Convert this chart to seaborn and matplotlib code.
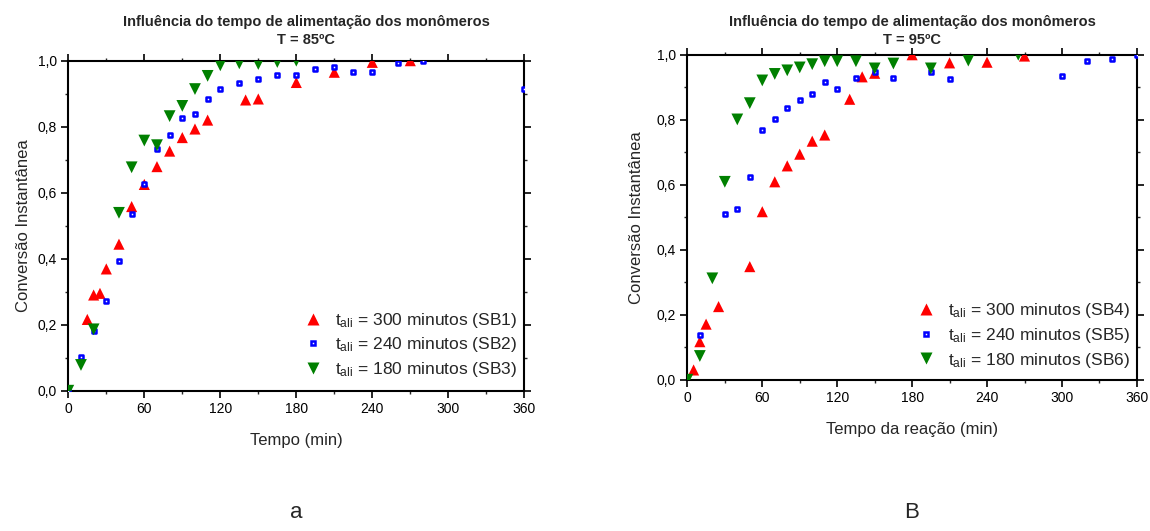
import matplotlib
matplotlib.use("Agg")
import matplotlib.pyplot as plt
import seaborn as sns
from matplotlib.ticker import MultipleLocator, FixedLocator, FixedFormatter
from matplotlib.lines import Line2D

sns.set_theme(style="ticks")
plt.rcParams["font.family"] = ["Liberation Sans", "DejaVu Sans"]
plt.rcParams["mathtext.fontset"] = "custom"
plt.rcParams["mathtext.rm"] = "Liberation Sans"
plt.rcParams["mathtext.it"] = "Liberation Sans:italic"

# ---- data: T = 85 ºC ----
sb1_t = [15, 20, 25, 30, 40, 50, 60, 70, 80, 90, 100, 110, 140, 150, 180, 210, 240, 270]
sb1_x = [0.216, 0.29, 0.295, 0.369, 0.444, 0.558, 0.625, 0.679, 0.726, 0.767, 0.793,
         0.82, 0.881, 0.884, 0.934, 0.965, 0.995, 1.0]
sb2_t = [0, 10, 20, 30, 40, 50, 60, 70, 80, 90, 100, 110, 120, 135, 150, 165, 180,
         195, 210, 225, 240, 260, 280, 360]
sb2_x = [0.0, 0.103, 0.181, 0.273, 0.394, 0.534, 0.625, 0.733, 0.776, 0.825, 0.837,
         0.885, 0.915, 0.933, 0.945, 0.956, 0.956, 0.976, 0.982, 0.965, 0.965, 0.994,
         1.0, 0.915]
sb3_t = [0, 10, 20, 40, 50, 60, 70, 80, 90, 100, 110, 120, 135, 150, 165, 180]
sb3_x = [0.0, 0.078, 0.186, 0.539, 0.677, 0.758, 0.744, 0.832, 0.863, 0.914, 0.954,
         0.986, 0.992, 0.99, 0.996, 1.0]

# ---- data: T = 95 ºC ----
sb4_t = [5, 10, 15, 25, 50, 60, 70, 80, 90, 100, 110, 130, 140, 150, 180, 210, 240, 270]
sb4_x = [0.03, 0.117, 0.171, 0.225, 0.348, 0.517, 0.609, 0.658, 0.694, 0.734, 0.753,
         0.863, 0.932, 0.943, 1.0, 0.975, 0.977, 0.996]
sb5_t = [10, 30, 40, 50, 60, 70, 80, 90, 100, 110, 120, 135, 150, 165, 195, 210,
         300, 320, 340, 360]
sb5_x = [0.139, 0.509, 0.526, 0.625, 0.767, 0.803, 0.835, 0.86, 0.878, 0.915, 0.895,
         0.927, 0.946, 0.927, 0.946, 0.926, 0.935, 0.98, 0.986, 1.0]
sb6_t = [0, 10, 20, 30, 40, 50, 60, 70, 80, 90, 100, 110, 120, 135, 150, 165, 195, 225, 265]
sb6_x = [0.0, 0.073, 0.312, 0.609, 0.801, 0.851, 0.921, 0.941, 0.952, 0.961, 0.971,
         0.98, 0.98, 0.98, 0.958, 0.973, 0.958, 0.982, 1.0]

x_ticks = [0, 60, 120, 180, 240, 300, 360]
y_ticks = [0.0, 0.2, 0.4, 0.6, 0.8, 1.0]
y_tick_labels = ["0,0", "0,2", "0,4", "0,6", "0,8", "1,0"]

title_line = "Influência do tempo de alimentação dos monômeros"
legend_a = [r"t$_{\mathrm{ali}}$ = 300 minutos (SB1)",
            r"t$_{\mathrm{ali}}$ = 240 minutos (SB2)",
            r"t$_{\mathrm{ali}}$ = 180 minutos (SB3)"]
legend_b = [r"t$_{\mathrm{ali}}$ = 300 minutos (SB4)",
            r"t$_{\mathrm{ali}}$ = 240 minutos (SB5)",
            r"t$_{\mathrm{ali}}$ = 180 minutos (SB6)"]

RED, BLUE, GREEN = "#FF0000", "#0000FF", "#008000"
W, H = 1150, 531

fig = plt.figure(figsize=(11.5, 5.31), dpi=100)
ax_a = fig.add_axes([0.0594, 0.2642, 0.3965, 0.6215])
ax_b = fig.add_axes([0.5977, 0.2849, 0.3909, 0.6120])


def draw_series(ax, series):
    for t, x, marker, color, size in series:
        if marker == "s":
            sns.scatterplot(x=t, y=x, ax=ax, marker="s", s=size, facecolor="white",
                            edgecolor=color, linewidth=1.8, zorder=3)
        else:
            sns.scatterplot(x=t, y=x, ax=ax, marker=marker, s=size, color=color,
                            edgecolor="none", linewidth=0, zorder=3)


def style_axes(ax, xlabel, labels, legend_y, ylabelpad):
    ax.set_xlim(0, 360)
    ax.set_ylim(0, 1.0)
    ax.xaxis.set_major_locator(FixedLocator(x_ticks))
    ax.xaxis.set_minor_locator(MultipleLocator(30))
    ax.yaxis.set_major_locator(FixedLocator(y_ticks))
    ax.yaxis.set_major_formatter(FixedFormatter(y_tick_labels))
    ax.yaxis.set_minor_locator(MultipleLocator(0.1))
    for sp in ax.spines.values():
        sp.set_visible(True)
        sp.set_linewidth(1.5)
        sp.set_color("black")
    ax.tick_params(which="major", direction="out", length=5, width=1.2,
                   labelsize=10, colors="black", pad=3,
                   top=True, right=True)
    ax.tick_params(which="minor", direction="out", length=2.5, width=1.0,
                   top=True, right=True)
    ax.set_xlabel(xlabel, fontsize=12, labelpad=12.5)
    ax.set_ylabel("Conversão Instantânea", fontsize=12, labelpad=ylabelpad)
    handles = [
        Line2D([], [], ls="none", marker="^", ms=8, mfc=RED, mec="none"),
        Line2D([], [], ls="none", marker="s", ms=2.7, mfc="white", mec=BLUE, mew=1.8),
        Line2D([], [], ls="none", marker="v", ms=8.5, mfc=GREEN, mec="none"),
    ]
    ax.legend(handles, labels, loc="lower right", bbox_to_anchor=(1.0, legend_y),
              frameon=False, fontsize=12.5, handletextpad=0.75, labelspacing=0.32,
              borderaxespad=0.0, handlelength=1.0)


draw_series(ax_a, [(sb1_t, sb1_x, "^", RED, 64),
                   (sb2_t, sb2_x, "s", BLUE, 7.5),
                   (sb3_t, sb3_x, "v", GREEN, 72)])
draw_series(ax_b, [(sb4_t, sb4_x, "^", RED, 64),
                   (sb5_t, sb5_x, "s", BLUE, 7.5),
                   (sb6_t, sb6_x, "v", GREEN, 72)])

style_axes(ax_a, "Tempo (min)", legend_a, 0.015, 5)
style_axes(ax_b, "Tempo da reação (min)", legend_b, 0.01, 9)

# panel titles (two lines each)
for cx, temp in [(306, "85"), (912, "95")]:
    fig.text(cx / W, 1 - 22 / H, title_line, ha="center", va="center",
             fontsize=10.5, fontweight="bold")
    fig.text(cx / W, 1 - 40 / H, f"T = {temp}ºC", ha="center", va="center",
             fontsize=10.5, fontweight="bold")

fig.text(296 / W, 1 - 513 / H, "a", ha="center", va="center", fontsize=16)
fig.text(912 / W, 1 - 513 / H, "B", ha="center", va="center", fontsize=16)

fig.savefig("out.png", dpi=100, facecolor="white")
